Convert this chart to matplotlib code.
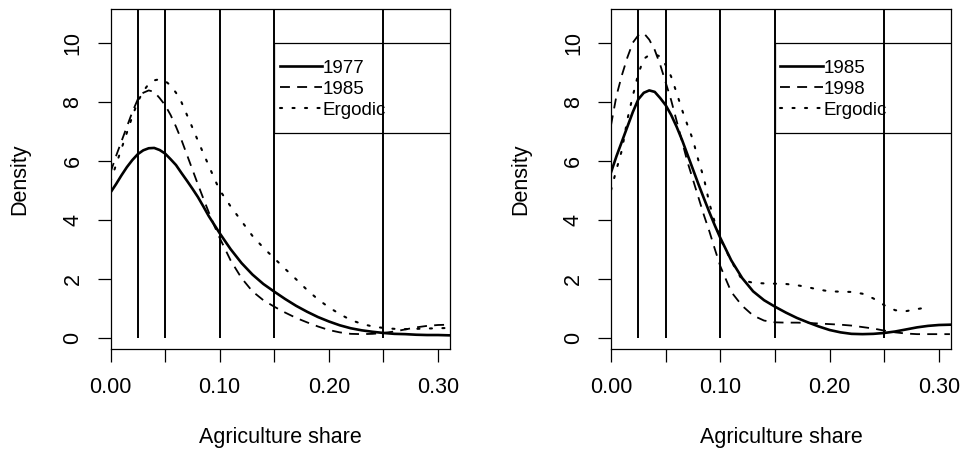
import numpy as np
import matplotlib
matplotlib.use("Agg")
import matplotlib.pyplot as plt
from matplotlib.patches import Rectangle

plt.rcParams['font.family'] = ['Liberation Sans', 'DejaVu Sans']

# Step 1: Data
share = [0.000, 0.005, 0.010, 0.015, 0.020, 0.025, 0.030, 0.035, 0.040, 0.045,
         0.050, 0.055, 0.060, 0.065, 0.070, 0.075, 0.080, 0.085, 0.090, 0.095,
         0.100, 0.110, 0.120, 0.130, 0.140, 0.150, 0.160, 0.170, 0.180, 0.190,
         0.200, 0.210, 0.220, 0.230, 0.240, 0.250, 0.260, 0.270, 0.280, 0.290,
         0.300, 0.310]

dens_1977 = [4.92, 5.20, 5.50, 5.78, 6.02, 6.22, 6.35, 6.42, 6.43, 6.36,
             6.24, 6.05, 5.85, 5.58, 5.32, 5.05, 4.77, 4.45, 4.12, 3.83,
             3.54, 3.00, 2.53, 2.14, 1.82, 1.56, 1.31, 1.08, 0.88, 0.70,
             0.55, 0.42, 0.32, 0.25, 0.20, 0.16, 0.13, 0.12, 0.10, 0.09,
             0.09, 0.08]

dens_1985 = [5.60, 6.15, 6.65, 7.15, 7.65, 8.08, 8.30, 8.38, 8.33, 8.12,
             7.88, 7.55, 7.15, 6.70, 6.20, 5.70, 5.20, 4.72, 4.25, 3.80,
             3.38, 2.62, 2.02, 1.57, 1.27, 1.05, 0.85, 0.67, 0.52, 0.38,
             0.26, 0.18, 0.13, 0.12, 0.13, 0.16, 0.21, 0.28, 0.35, 0.40,
             0.43, 0.44]

dens_1998 = [7.20, 8.20, 8.90, 9.50, 10.00, 10.25, 10.32, 10.10, 9.75, 9.25,
             8.65, 8.05, 7.35, 6.65, 5.95, 5.35, 4.75, 4.15, 3.60, 3.00,
             2.42, 1.55, 1.08, 0.75, 0.58, 0.52, 0.51, 0.51, 0.50, 0.48,
             0.46, 0.44, 0.41, 0.36, 0.31, 0.24, 0.18, 0.14, 0.12, 0.12,
             0.12, 0.12]

ergodic_77_85 = [5.30, 5.85, 6.40, 6.95, 7.50, 8.00, 8.35, 8.60, 8.72, 8.76,
                 8.70, 8.55, 8.30, 7.98, 7.55, 7.12, 6.68, 6.25, 5.83, 5.40,
                 5.00, 4.45, 3.95, 3.45, 3.05, 2.69, 2.33, 1.98, 1.62, 1.30,
                 1.03, 0.80, 0.60, 0.47, 0.38, 0.33, 0.30, 0.29, 0.30, 0.31,
                 0.32, 0.33]

ergodic_85_98 = [5.00, 5.70, 6.36, 7.40, 8.20, 8.95, 9.45, 9.58, 9.60, 9.53,
                 9.24, 8.85, 8.30, 7.72, 7.20, 6.70, 6.00, 5.40, 4.55, 3.90,
                 3.35, 2.60, 1.95, 1.86, 1.84, 1.83, 1.82, 1.78, 1.71, 1.63,
                 1.57, 1.56, 1.55, 1.49, 1.33, 1.10, 0.93, 0.90, 0.97, 1.03,
                 np.nan, np.nan]

cutoffs = [0.025, 0.05, 0.10, 0.15, 0.25]

x_ticks = [0.00, 0.05, 0.10, 0.15, 0.20, 0.25, 0.30]
x_tick_labels = ['0.00', '', '0.10', '', '0.20', '', '0.30']
y_ticks = [0, 2, 4, 6, 8, 10]
y_tick_labels = ['0', '2', '4', '6', '8', '10']

panels = [
    (['1977', '1985', 'Ergodic'], [dens_1977, dens_1985, ergodic_77_85]),
    (['1985', '1998', 'Ergodic'], [dens_1985, dens_1998, ergodic_85_98]),
]

# Step 2: Figure with two panels
fig = plt.figure(figsize=(9.61, 4.55), dpi=100)
ax_left = fig.add_axes([0.115, 0.233, 0.3533, 0.7473])
ax_right = fig.add_axes([0.6358, 0.233, 0.3538, 0.7473])

styles = [
    dict(linestyle='-', linewidth=1.9),
    dict(linestyle=(0, (5.5, 4.0)), linewidth=1.3),
    dict(linestyle=(0, (1, 5)), linewidth=1.5, dash_capstyle='round'),
]

fs = 15.5
fs_leg = 13.5

for ax, (labels, series) in zip([ax_left, ax_right], panels):
    # vertical cut-off lines from 0 up
    ax.vlines(cutoffs, 0, 12, colors='black', linewidth=1.4)

    handles = []
    for lab, dens, st in zip(labels, series, styles):
        h, = ax.plot(share, dens, color='black', label=lab, **st)
        handles.append(h)

    # legend box (runs past the plot edge and is clipped)
    ax.add_patch(Rectangle((0.15, 6.95), 0.5, 3.05, fill=False,
                           edgecolor='black', linewidth=0.9))
    ax.legend(handles=handles, loc='upper left', bbox_to_anchor=(0.155, 9.42),
              bbox_transform=ax.transData, frameon=False, fontsize=fs_leg,
              handlelength=2.25, handletextpad=0.05, labelspacing=0.2,
              borderpad=0, borderaxespad=0)

    ax.set_xlim(0, 0.311)
    ax.set_ylim(-0.383, 11.14)

    ax.set_xticks(x_ticks, x_tick_labels)
    ax.set_yticks(y_ticks, y_tick_labels)
    ax.tick_params(axis='both', direction='out', length=9.5, width=0.9,
                   labelsize=fs)
    ax.tick_params(axis='x', pad=11)
    ax.tick_params(axis='y', pad=10)
    for t in ax.get_yticklabels():
        t.set_rotation(90)
        t.set_va('center')

    for sp in ax.spines.values():
        sp.set_linewidth(0.9)

    ax.set_xlabel('Agriculture share', fontsize=fs)
    ax.set_ylabel('Density', fontsize=fs)
    ax.xaxis.label.set_va('center')
    ax.yaxis.label.set_va('center')
    ax.xaxis.set_label_coords(0.5, -0.259)
    ax.yaxis.set_label_coords(-0.266, 0.5)

plt.savefig('out.png', dpi=100)
